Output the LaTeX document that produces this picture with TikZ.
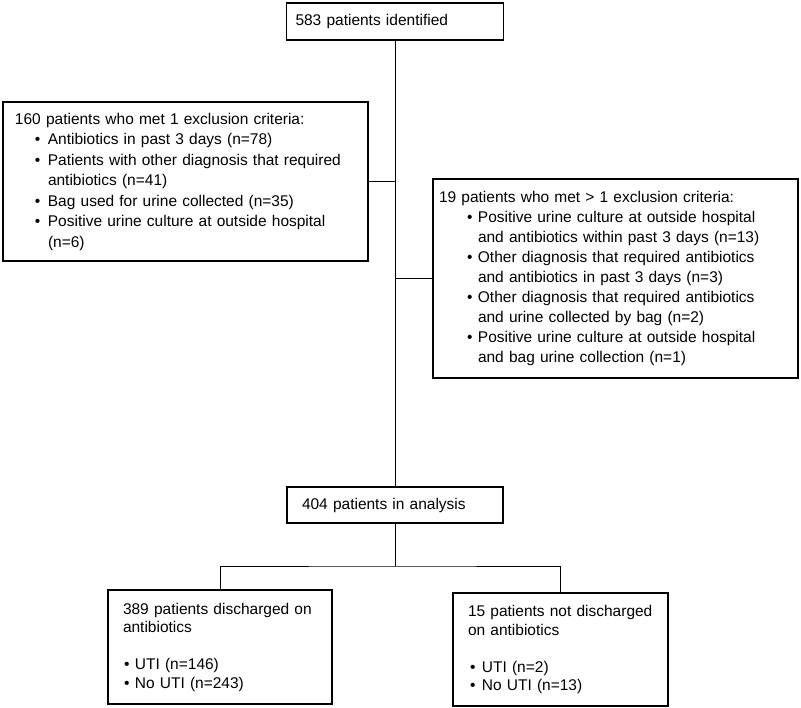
\documentclass[tikz,border=0pt]{standalone}
\usepackage{fontspec}
\setmainfont{Liberation Sans}

\newcommand{\bul}[1]{\textbullet\hspace{#1}}

\tikzstyle{box} = [draw, line width=1.6pt, align=left, font=\fontsize{15.5}{20.5}\selectfont]
\tikzstyle{outbox} = [box, font=\fontsize{15.5}{18.5}\selectfont]
\tikzstyle{link} = [line width=0.9pt]

\begin{document}
\begin{tikzpicture}[x=1pt, y=-1pt]
  \useasboundingbox (0,0) rectangle (801,708);
  \node (ident) at (395,21.5) [box, text width=199pt, inner xsep=9pt, minimum height=37pt] {583 patients identified};
  \node (excl1) at (185.5,181.5) [box, text width=341pt, inner xsep=12pt, minimum height=159pt]
    {160 patients who met 1 exclusion criteria:\\
     \hspace*{20pt}\bul{7.5pt}Antibiotics in past 3 days (n=78)\\
     \hspace*{20pt}\bul{7.5pt}Patients with other diagnosis that required\\
     \hspace*{33pt}antibiotics (n=41)\\
     \hspace*{20pt}\bul{7.5pt}Bag used for urine collected (n=35)\\
     \hspace*{20pt}\bul{7.5pt}Positive urine culture at outside hospital\\
     \hspace*{33pt}(n=6)};
  \node (excl2) at (615.5,278.5) [box, text width=353pt, inner xsep=6pt, minimum height=199pt, font=\fontsize{15.5}{20}\selectfont]
    {19 patients who met > 1 exclusion criteria:\\
     \hspace*{28pt}\bul{5.5pt}Positive urine culture at outside hospital\\
     \hspace*{39pt}and antibiotics within past 3 days (n=13)\\
     \hspace*{28pt}\bul{5.5pt}Other diagnosis that required antibiotics\\
     \hspace*{39pt}and antibiotics in past 3 days (n=3)\\
     \hspace*{28pt}\bul{5.5pt}Other diagnosis that required antibiotics\\
     \hspace*{39pt}and urine collected by bag (n=2)\\
     \hspace*{28pt}\bul{5.5pt}Positive urine culture at outside hospital\\
     \hspace*{39pt}and bag urine collection (n=1)};
  \node (analysis) at (395,505) [box, text width=186pt, inner xsep=15pt, minimum height=36pt] {404 patients in analysis};
  \node (abx) at (220,647) [outbox, text width=194pt, inner xsep=15pt, minimum height=114pt]
    {389 patients discharged on\\
     antibiotics\\[18.5pt]
     \hspace*{1pt}\bul{5.5pt}UTI (n=146)\\
     \hspace*{1pt}\bul{5.5pt}No UTI (n=243)};
  \node (noabx) at (560.5,649.5) [outbox, text width=185pt, inner xsep=15pt, minimum height=113pt]
    {15 patients not discharged\\
     on antibiotics\\[18.5pt]
     \hspace*{2pt}\bul{6.5pt}UTI (n=2)\\
     \hspace*{2pt}\bul{6.5pt}No UTI (n=13)};
  \coordinate (split) at (395,566);
  \draw [link] (ident) -- (analysis);
  \draw [link] (excl1.east) -- (excl1.east -| analysis.north);
  \draw [link] (excl2.west) -- (excl2.west -| analysis.north);
  \draw [link] (analysis) -- (split);
  \draw [link] (abx.north) |- (split) -| (noabx.north);
\end{tikzpicture}
\end{document}
